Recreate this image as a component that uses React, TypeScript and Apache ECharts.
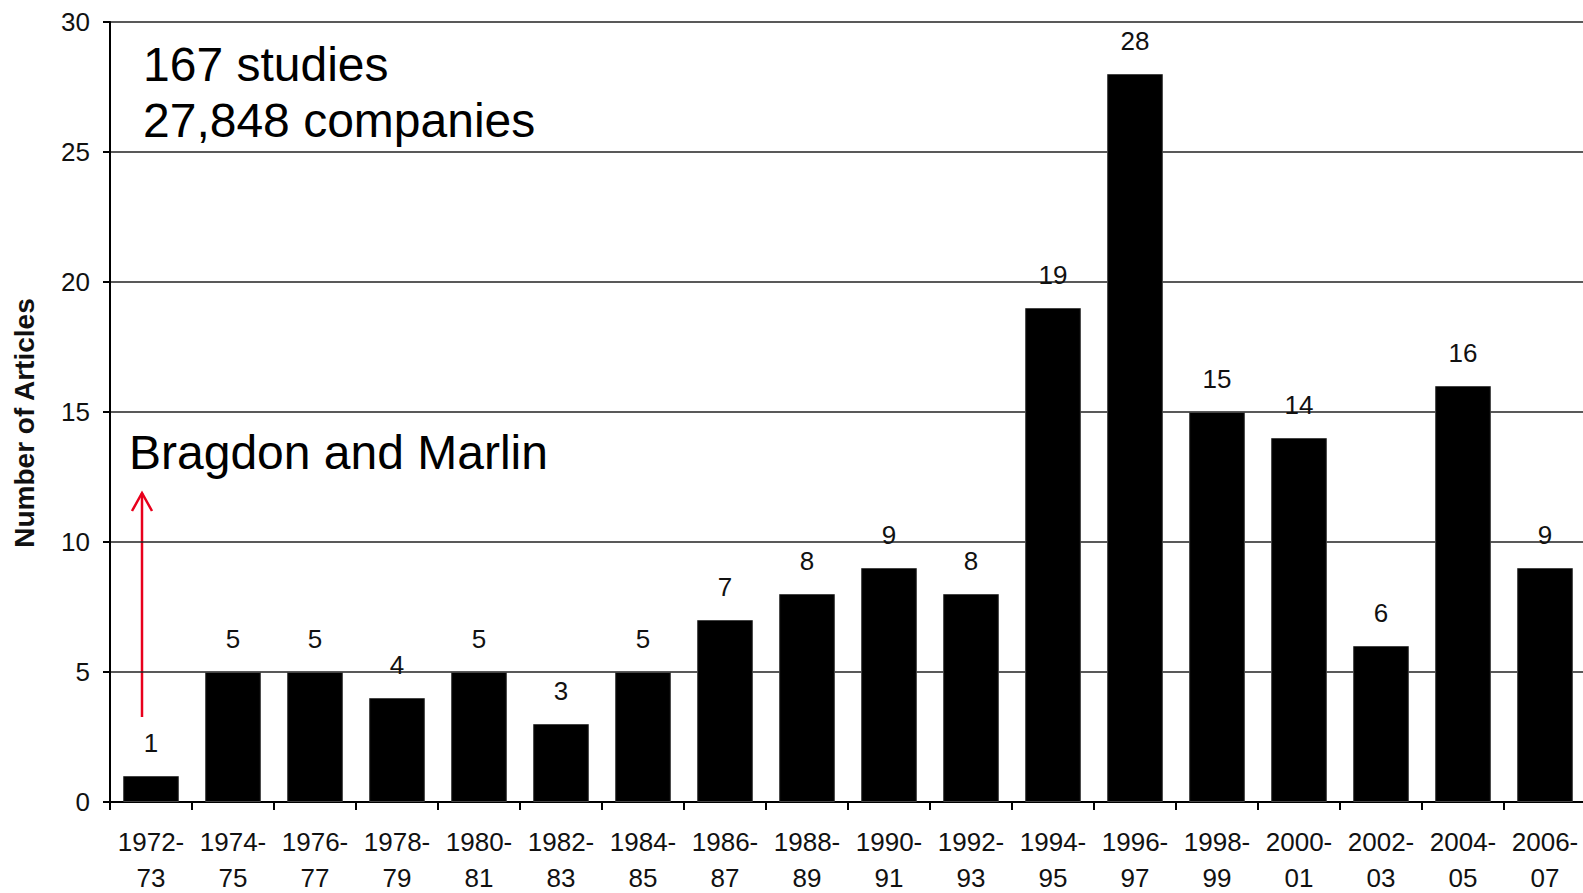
import React, { useEffect, useRef } from "react";
import * as echarts from "echarts";

const periods: string[] = [
  "1972-\n73", "1974-\n75", "1976-\n77", "1978-\n79", "1980-\n81", "1982-\n83",
  "1984-\n85", "1986-\n87", "1988-\n89", "1990-\n91", "1992-\n93", "1994-\n95",
  "1996-\n97", "1998-\n99", "2000-\n01", "2002-\n03", "2004-\n05", "2006-\n07",
];
const articles: number[] = [1, 5, 5, 4, 5, 3, 5, 7, 8, 9, 8, 19, 28, 15, 14, 6, 16, 9];
const yTicks = { min: 0, max: 30, interval: 5 };
const noteLines: string[] = ["167 studies", "27,848 companies"];
const arrowNote = "Bragdon and Marlin";

const FONT = "'Liberation Sans', Arial, sans-serif";

export default function App() {
  const ref = useRef<HTMLDivElement>(null);
  useEffect(() => {
    if (!ref.current) return;
    const chart = echarts.init(ref.current, undefined, { renderer: "svg" });
    chart.setOption({
      animation: false,
      backgroundColor: "#ffffff",
      textStyle: { fontFamily: FONT },
      grid: {
        left: 110,
        right: -3,
        top: 22,
        bottom: 91,
        containLabel: false,
        outerBoundsMode: "none",
      },
      xAxis: {
        type: "category",
        data: periods,
        axisLine: { show: true, lineStyle: { color: "#000", width: 2 } },
        axisTick: { show: true, length: 8, lineStyle: { color: "#000", width: 2 } },
        axisLabel: {
          color: "#111",
          fontSize: 26,
          fontFamily: FONT,
          lineHeight: 36,
          margin: 22,
          interval: 0,
        },
      },
      yAxis: {
        type: "value",
        min: yTicks.min,
        max: yTicks.max,
        interval: yTicks.interval,
        name: "Number of Articles",
        nameLocation: "middle",
        nameGap: 72,
        nameTextStyle: {
          fontSize: 28,
          fontWeight: "bold",
          color: "#111",
          fontFamily: FONT,
          padding: [0, 22, 0, 0],
        },
        axisLine: { show: true, lineStyle: { color: "#000", width: 2 } },
        axisTick: { show: true, length: 7, lineStyle: { color: "#000", width: 2 } },
        axisLabel: { color: "#111", fontSize: 26, margin: 20, fontFamily: FONT },
        splitLine: { show: true, lineStyle: { color: "#222", width: 1.5 } },
      },
      series: [
        {
          type: "bar",
          data: articles,
          barCategoryGap: "32%",
          itemStyle: { color: "#000", borderColor: "#444", borderWidth: 1 },
          label: {
            show: true,
            position: "top",
            distance: 20,
            color: "#111",
            fontSize: 26,
            fontFamily: FONT,
          },
        },
      ],
      graphic: [
        {
          type: "text",
          left: 143,
          top: 36,
          style: {
            text: noteLines.join("\n"),
            fontSize: 48,
            lineHeight: 56,
            fill: "#000",
            fontFamily: FONT,
          },
        },
        {
          type: "text",
          left: 129,
          top: 428,
          style: { text: arrowNote, fontSize: 48, fill: "#000", fontFamily: FONT },
        },
        {
          type: "line",
          shape: { x1: 142, y1: 717, x2: 142, y2: 493 },
          style: { stroke: "#e8001c", lineWidth: 2.5 },
        },
        {
          type: "polyline",
          shape: { points: [[132, 511], [142, 493], [152, 511]] },
          style: { stroke: "#e8001c", lineWidth: 2.5, fill: "none" },
        },
      ],
    });
    return () => chart.dispose();
  }, []);
  return (
    <div
      ref={ref}
      style={{ position: "fixed", left: 0, top: 0, width: 1583, height: 893, background: "#fff" }}
    />
  );
}
